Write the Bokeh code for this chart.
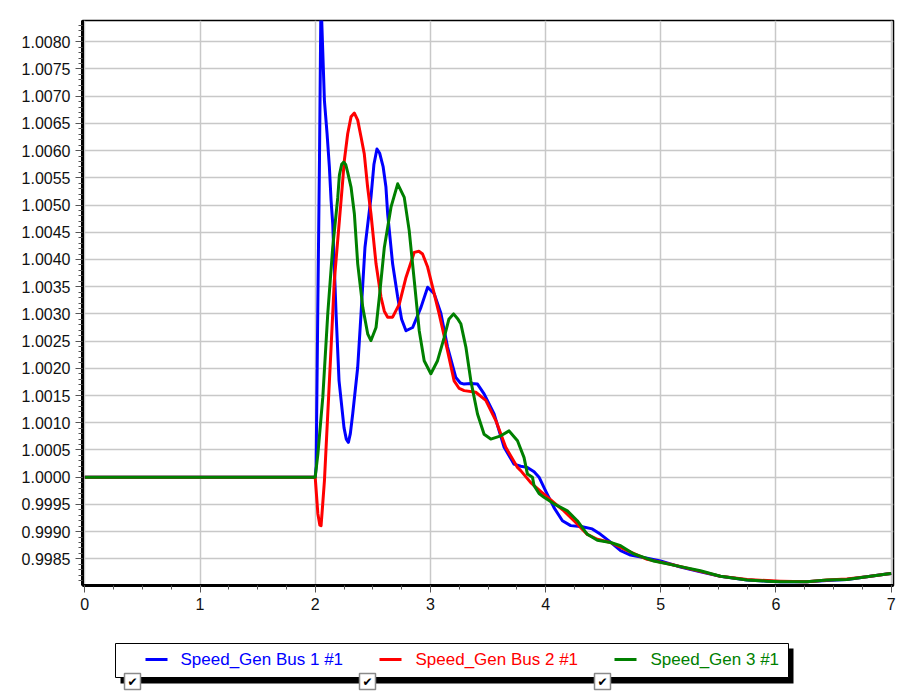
from bokeh.plotting import figure
from bokeh.models import Range1d, SingleIntervalTicker, PrintfTickFormatter
from bokeh.layouts import column
from bokeh.embed import file_html
from bokeh.resources import INLINE
from bokeh.core.properties import value

# ---------------- data ----------------
series_names = ["Speed_Gen Bus 1 #1", "Speed_Gen Bus 2 #1", "Speed_Gen 3 #1"]
series_colors = ["#0000ff", "#ff0000", "#008000"]

t_bus1 = [0, 2.0, 2.008, 2.022, 2.037, 2.05, 2.066, 2.080, 2.103, 2.123, 2.138, 2.152, 2.181,
          2.207, 2.250, 2.270, 2.288, 2.305, 2.326, 2.369, 2.398, 2.432, 2.484, 2.510, 2.536,
          2.560, 2.590, 2.614, 2.629, 2.672, 2.716, 2.750, 2.788, 2.846, 2.918, 2.976, 3.033,
          3.091, 3.149, 3.221, 3.260, 3.293, 3.350, 3.409, 3.466, 3.553, 3.640, 3.726, 3.784,
          3.842, 3.900, 3.943, 4.0, 4.073, 4.146, 4.218, 4.319, 4.405, 4.477, 4.550, 4.651,
          4.737, 4.882, 4.997, 5.171, 5.344, 5.517, 5.749, 5.922, 6.037, 6.268, 6.442, 6.615,
          6.788, 6.962, 7.0]
speed_bus1 = [1.0, 1.0, 1.0002, 1.0030, 1.0058, 1.0088, 1.0078, 1.00692, 1.00631, 1.00570, 1.00508,
              1.00466, 1.00301, 1.00177, 1.00091, 1.00070, 1.00064, 1.00080, 1.00117, 1.00202,
              1.00301, 1.00422, 1.00514, 1.00575, 1.00603, 1.00595, 1.00570, 1.00533, 1.00484,
              1.00392, 1.00331, 1.00290, 1.00269, 1.00275, 1.00312, 1.00349, 1.00337, 1.00301,
              1.00239, 1.00183, 1.00173, 1.00171, 1.00172, 1.00171, 1.00153, 1.00116, 1.00055,
              1.00024, 1.00020, 1.00018, 1.00010, 1.00000, 0.99975, 0.99944, 0.99920, 0.99911,
              0.99909, 0.99905, 0.99895, 0.99883, 0.99865, 0.99857, 0.99851, 0.99846, 0.99835,
              0.99826, 0.99818, 0.99811, 0.99809, 0.99808, 0.99808, 0.99810, 0.99812, 0.99817,
              0.99822, 0.99823]

t_bus2 = [0, 2.0, 2.023, 2.040, 2.051, 2.065, 2.080, 2.109, 2.138, 2.166, 2.210, 2.239, 2.253,
          2.282, 2.311, 2.340, 2.369, 2.398, 2.426, 2.455, 2.484, 2.528, 2.571, 2.600, 2.629,
          2.672, 2.730, 2.788, 2.860, 2.900, 2.932, 2.976, 3.019, 3.076, 3.149, 3.206, 3.250,
          3.293, 3.394, 3.481, 3.568, 3.654, 3.756, 3.784, 3.871, 3.957, 4.073, 4.159, 4.246,
          4.362, 4.449, 4.564, 4.709, 4.882, 5.084, 5.344, 5.517, 5.749, 5.922, 6.037, 6.268,
          6.442, 6.615, 6.788, 6.962, 7.0]
speed_bus2 = [1.0, 1.0, 0.99933, 0.99912, 0.99911, 0.99950, 0.99993, 1.00116, 1.00239, 1.00361,
              1.00472, 1.00545, 1.00582, 1.00631, 1.00662, 1.00669, 1.00656, 1.00625, 1.00594,
              1.00533, 1.00484, 1.00392, 1.00331, 1.00305, 1.00294, 1.00294, 1.00318, 1.00367,
              1.00413, 1.00415, 1.00410, 1.00386, 1.00349, 1.00300, 1.00232, 1.00177, 1.00163,
              1.00159, 1.00156, 1.00141, 1.00104, 1.00055, 1.00018, 1.00012, 0.99990, 0.99974,
              0.99953, 0.99938, 0.99920, 0.99895, 0.99886, 0.99880, 0.99865, 0.99849, 0.99840,
              0.99827, 0.99818, 0.99812, 0.99810, 0.99809, 0.99808, 0.99811, 0.99813, 0.99817,
              0.99822, 0.99823]

t_gen3 = [0, 2.0, 2.023, 2.066, 2.109, 2.152, 2.196, 2.210, 2.230, 2.248, 2.265, 2.282, 2.311,
          2.340, 2.369, 2.413, 2.456, 2.484, 2.528, 2.557, 2.600, 2.658, 2.716, 2.773, 2.816,
          2.860, 2.903, 2.946, 3.004, 3.062, 3.120, 3.160, 3.201, 3.240, 3.264, 3.308, 3.351,
          3.409, 3.466, 3.524, 3.611, 3.683, 3.756, 3.813, 3.842, 3.886, 3.899, 3.943, 3.986,
          4.073, 4.189, 4.275, 4.362, 4.449, 4.564, 4.651, 4.766, 4.939, 5.142, 5.344, 5.517,
          5.749, 5.922, 6.037, 6.268, 6.442, 6.615, 6.788, 6.962, 7.0]
speed_gen3 = [1.0, 1.0, 1.00042, 1.00147, 1.00300, 1.00422, 1.00514, 1.00555, 1.00575, 1.00579,
              1.00574, 1.00560, 1.00533, 1.00484, 1.00392, 1.00312, 1.00263, 1.00251, 1.00275,
              1.00331, 1.00422, 1.00496, 1.00539, 1.00514, 1.00453, 1.00361, 1.00269, 1.00214,
              1.00190, 1.00214, 1.00257, 1.00290, 1.00300, 1.00290, 1.00282, 1.00239, 1.00177,
              1.00116, 1.00079, 1.00070, 1.00076, 1.00085, 1.00067, 1.00036, 1.00006, 1.00000,
              0.99985, 0.99970, 0.99963, 0.99951, 0.99938, 0.99920, 0.99895, 0.99884, 0.99880,
              0.99874, 0.99859, 0.99846, 0.99837, 0.99828, 0.99818, 0.99811, 0.99809, 0.99808,
              0.99808, 0.99811, 0.99812, 0.99817, 0.99822, 0.99823]

x_ticks_interval = 1
y_ticks_interval = 0.0005

# ---------------- main chart ----------------
FONT = "Liberation Sans"
W = 896
BORDER_L = 82
BORDER_R = 3

p = figure(width=W, height=620,
           x_range=Range1d(-0.02, 7.02), y_range=Range1d(0.99801, 1.00839),
           output_backend="svg", toolbar_location=None,
           min_border_left=BORDER_L, min_border_right=BORDER_R, min_border_top=20,
           min_border_bottom=35,
           background_fill_color="white", border_fill_color="white")

xt = SingleIntervalTicker(interval=x_ticks_interval, num_minor_ticks=4)
yt = SingleIntervalTicker(interval=y_ticks_interval, num_minor_ticks=5)
p.xaxis.ticker = xt
p.yaxis.ticker = yt
p.xgrid.ticker = xt
p.ygrid.ticker = yt
p.yaxis.formatter = PrintfTickFormatter(format="%.4f")

for ax in (p.xaxis, p.yaxis):
    ax.axis_line_color = "black"
    ax.axis_line_width = 3
    ax.major_tick_in = 0
    ax.major_tick_out = 7
    ax.minor_tick_in = 0
    ax.minor_tick_out = 4
    ax.major_tick_line_color = "#555555"
    ax.minor_tick_line_color = "#555555"
    ax.major_label_text_font = FONT
    ax.major_label_text_font_size = "16px"
    ax.major_label_text_color = "#111111"
    ax.major_label_standoff = 5

p.xgrid.grid_line_color = "#c8c8c8"
p.ygrid.grid_line_color = "#c8c8c8"
p.xgrid.grid_line_width = 1.5
p.ygrid.grid_line_width = 1.5
p.outline_line_color = "black"
p.outline_line_width = 1.5

for tx, sy, col in ((t_bus1, speed_bus1, series_colors[0]),
                    (t_bus2, speed_bus2, series_colors[1]),
                    (t_gen3, speed_gen3, series_colors[2])):
    p.line(tx, sy, line_color=col, line_width=3, line_join="round")

# ---------------- legend strip (frame is aligned with the chart frame) ----------------
lg = figure(width=W, height=72, x_range=Range1d(BORDER_L, W - BORDER_R), y_range=Range1d(72, 0),
            output_backend="svg", toolbar_location=None,
            min_border_left=BORDER_L, min_border_right=BORDER_R, min_border_top=0,
            min_border_bottom=0,
            x_axis_location=None, y_axis_location=None, outline_line_color=None,
            background_fill_color="white", border_fill_color="white")
lg.grid.visible = False

lg.quad(left=[120], right=[793], top=[28], bottom=[63], fill_color="black", line_color=None)
lg.quad(left=[115], right=[788], top=[23], bottom=[57], fill_color="white",
        line_color="black", line_width=1)

sample_x0 = [145, 379, 614]
text_x = [180, 415, 650]
for x0, col in zip(sample_x0, series_colors):
    lg.line([x0, x0 + 22], [39, 39], line_color=col, line_width=3)
lg.text(x=text_x, y=[39] * 3, text=series_names, text_color=series_colors,
        text_font=value(FONT), text_font_size="17px", text_baseline="middle", text_align="left")

box_x = [132, 367, 602]
lg.rect(x=box_x, y=[61] * 3, width=16, height=16, fill_color="white",
        line_color="#8a8a8a", line_width=1.5)
lg.text(x=box_x, y=[61.5] * 3, text=["\u2714"] * 3, text_color="black",
        text_font=value("DejaVu Sans"), text_font_size="12px",
        text_baseline="middle", text_align="center")

layout = column(p, lg, spacing=0)
open("out.html", "w").write(file_html(layout, INLINE))
